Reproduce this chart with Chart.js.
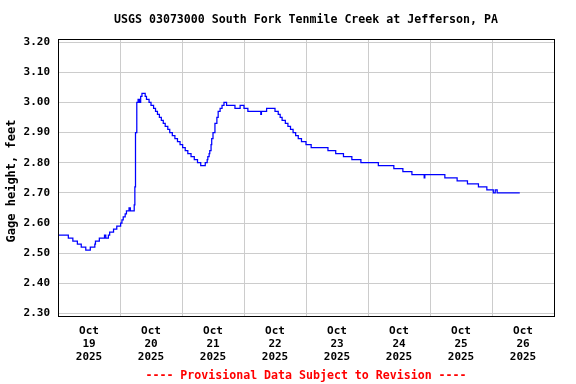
<!DOCTYPE html>
<html>
<head>
<meta charset="utf-8">
<script src="https://cdn.jsdelivr.net/npm/chart.js@4"></script>
<style>
  html, body { margin: 0; padding: 0; background: #fff; }
  canvas { display: block; }
</style>
</head>
<body>
<canvas id="chart" width="576" height="384"></canvas>
<script>
// hours since Oct 19 2025 00:00 where the gage reading changes
const hours = [0, 4, 5.75, 7.5, 9, 10.75, 12.5, 14.25, 14.5, 16, 18, 18.5, 19.5, 20, 21.5, 22.75,
  24.25, 24.75, 25.25, 26, 26.5, 27.5, 28, 29.5, 29.75, 30, 30.5, 31, 31.5, 32, 32.5, 33.75,
  34.25, 35.25, 36, 37, 37.75, 38.5, 39.25, 40, 40.75, 41.5, 42.5, 43.25, 44.25, 45.25, 46.25,
  47.25, 48.25, 49.25, 50.25, 51.5, 52.75, 54, 55.25, 57, 57.75, 58, 58.5, 58.75, 59.25, 59.5,
  60, 60.75, 61.5, 62, 62.75, 63.5, 64.25, 65.25, 68.5, 70.5, 72, 73.5, 78.5, 78.75, 80.75,
  84, 85.25, 86, 86.75, 88, 89, 90, 91, 92, 93, 94.25, 96, 98, 104.5, 107.5, 110.5, 113.75,
  117.25, 124, 130, 133.5, 137, 141.75, 142, 149.75, 154.5, 158.5, 162.75, 166, 168.5, 169.25,
  170, 178.75];
const gageFt = [2.56, 2.55, 2.54, 2.53, 2.52, 2.51, 2.52, 2.53, 2.54, 2.55, 2.56, 2.55, 2.56, 2.57, 2.58, 2.59,
  2.60, 2.61, 2.62, 2.63, 2.64, 2.65, 2.64, 2.66, 2.72, 2.90, 3.00, 3.01, 3.00, 3.02, 3.03, 3.02,
  3.01, 3.00, 2.99, 2.98, 2.97, 2.96, 2.95, 2.94, 2.93, 2.92, 2.91, 2.90, 2.89, 2.88, 2.87,
  2.86, 2.85, 2.84, 2.83, 2.82, 2.81, 2.80, 2.79, 2.80, 2.81, 2.82, 2.83, 2.84, 2.86, 2.88,
  2.90, 2.93, 2.95, 2.97, 2.98, 2.99, 3.00, 2.99, 2.98, 2.99, 2.98, 2.97, 2.96, 2.97, 2.98,
  2.97, 2.96, 2.95, 2.94, 2.93, 2.92, 2.91, 2.90, 2.89, 2.88, 2.87, 2.86, 2.85, 2.84, 2.83, 2.82, 2.81,
  2.80, 2.79, 2.78, 2.77, 2.76, 2.75, 2.76, 2.75, 2.74, 2.73, 2.72, 2.71, 2.70, 2.71,
  2.70, 2.70];

const dayLabels = ['19', '20', '21', '22', '23', '24', '25', '26'];
const yTicks = [2.30, 2.40, 2.50, 2.60, 2.70, 2.80, 2.90, 3.00, 3.10, 3.20];

const titleText = 'USGS 03073000 South Fork Tenmile Creek at Jefferson, PA';
const yTitle = 'Gage height, feet';
const footerText = '---- Provisional Data Subject to Revision ----';

const FONT = '"DejaVu Sans Mono", monospace';

const frame = {
  id: 'frame',
  afterDraw(chart) {
    const ctx = chart.ctx;
    const a = chart.chartArea;
    const cx = (a.left + a.right) / 2;
    ctx.save();
    ctx.strokeStyle = '#000';
    ctx.lineWidth = 1;
    ctx.strokeRect(Math.round(a.left) + 0.5, Math.round(a.top) + 0.5,
      Math.round(a.right - a.left), Math.round(a.bottom - a.top));

    ctx.textAlign = 'center';
    ctx.textBaseline = 'middle';
    ctx.fillStyle = '#000';
    ctx.font = 'bold 11.6px ' + FONT;
    ctx.fillText(titleText, cx, 20);

    ctx.fillStyle = '#ff0000';
    ctx.fillText(footerText, cx, 375.5);

    ctx.fillStyle = '#000';
    ctx.font = 'bold 12px ' + FONT;
    ctx.translate(12, 181);
    ctx.rotate(-Math.PI / 2);
    ctx.fillText(yTitle, 0, 0);
    ctx.restore();
  }
};

const points = hours.map((h, i) => ({ x: h, y: gageFt[i] }));

new Chart(document.getElementById('chart'), {
  type: 'line',
  data: {
    datasets: [{
      data: points,
      borderColor: '#0000ff',
      borderWidth: 1.25,
      pointRadius: 0,
      stepped: true,
      fill: false
    }]
  },
  options: {
    responsive: false,
    animation: false,
    devicePixelRatio: 1,
    layout: { padding: { left: 0, right: 22, top: 39, bottom: 0 } },
    plugins: {
      legend: { display: false },
      tooltip: { enabled: false }
    },
    scales: {
      x: {
        type: 'linear',
        min: 0,
        max: 192,
        afterFit(scale) { scale.height = 68; },
        afterBuildTicks(scale) {
          const t = [];
          for (let v = 0; v <= 192; v += 12) t.push({ value: v });
          scale.ticks = t;
        },
        border: { display: false },
        grid: {
          drawTicks: false,
          lineWidth: 1,
          color: ctx => {
            const v = ctx.tick ? ctx.tick.value : 0;
            return (v % 24 === 0 && v > 0 && v < 192) ? '#cccccc' : 'rgba(0,0,0,0)';
          }
        },
        ticks: {
          autoSkip: false,
          maxRotation: 0,
          padding: 9,
          color: '#000',
          font: { family: FONT, size: 11, weight: 'bold', lineHeight: 1.18 },
          callback: v => (v % 24 === 12) ? ['Oct', dayLabels[(v - 12) / 24], '2025'] : ''
        }
      },
      y: {
        min: 2.2917,
        max: 3.21,
        afterFit(scale) { scale.width = 58; },
        afterBuildTicks(scale) { scale.ticks = yTicks.map(v => ({ value: v })); },
        border: { display: false },
        grid: { drawTicks: false, color: '#cccccc', lineWidth: 1 },
        ticks: {
          padding: 8,
          color: '#000',
          font: { family: FONT, size: 11, weight: 'bold' },
          callback: v => v.toFixed(2)
        }
      }
    }
  },
  plugins: [frame]
});
</script>
</body>
</html>
